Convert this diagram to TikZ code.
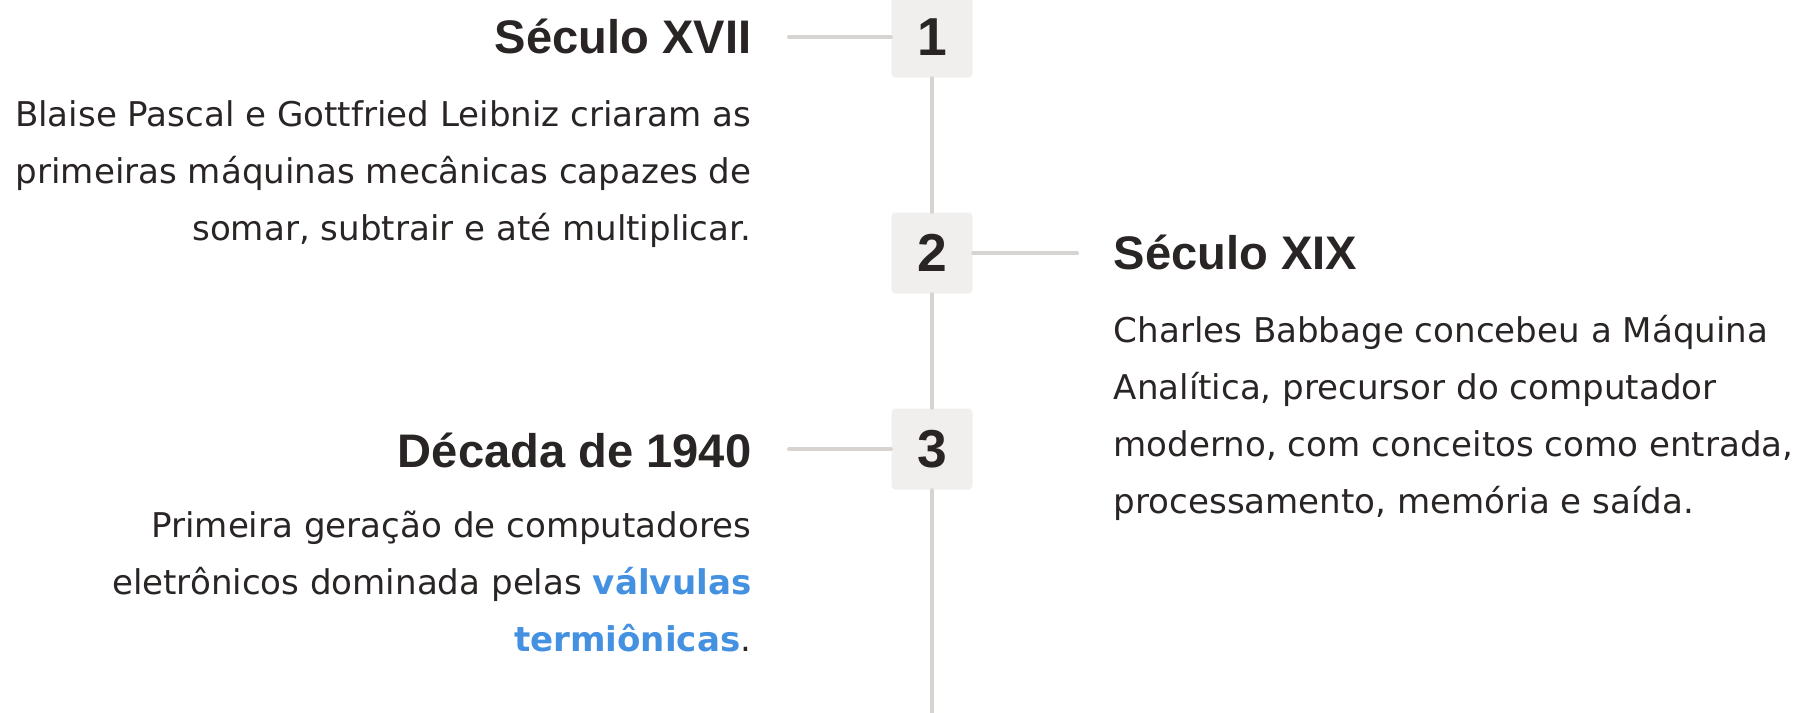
\documentclass[tikz,border=0pt]{standalone}
\usepackage{fontspec}
\setmainfont{DejaVu Sans}
\newfontfamily\headfont{Liberation Sans}
\usetikzlibrary{arrows}
\definecolor{ink}{HTML}{292524}
\definecolor{rail}{HTML}{D6D3D1}
\definecolor{stepfill}{HTML}{F1EFEE}
\definecolor{linkblue}{HTML}{4391E0}

\begin{document}
\begin{tikzpicture}
  \useasboundingbox (0,0) rectangle (17.99,-7.12);
  %\draw[red] (0,0) rectangle (17.99,-7.12);
  \tikzstyle{StepBox}=[fill=stepfill,rounded corners=0.04cm,minimum size=0.81cm,inner sep=0,
    text=ink,font=\headfont\bfseries\fontsize{15.2}{15.2}\selectfont]
  \tikzstyle{Title}=[inner sep=0,text=ink,font=\headfont\bfseries\fontsize{13.4}{13.4}\selectfont]
  \tikzstyle{Body}=[inner sep=0,text=ink,font=\fontsize{9.7}{16.2}\selectfont]
  \tikzstyle{Rail}=[draw=rail,line width=0.04cm,line cap=round]

  % numbered steps on the rail
  \node[StepBox] (n1) at (9.32,-0.37) {1};
  \node[StepBox] (n2) at (9.32,-2.53) {2};
  \node[StepBox] (n3) at (9.32,-4.49) {3};
  \coordinate (bottom) at (9.32,-7.14);

  \coordinate (t1) at (7.89,-0.37);
  \coordinate (t2) at (10.77,-2.53);
  \coordinate (t3) at (7.89,-4.49);

  \draw[Rail] (n1) -- (n2);
  \draw[Rail] (n2) -- (n3);
  \draw[Rail] (n3) -- (bottom);
  \draw[Rail] (t1) -- (n1.west);
  \draw[Rail] (n2.east) -- (t2);
  \draw[Rail] (t3) -- (n3.west);

  % titles
  \node[Title,anchor=base east] (h1) at (7.52,-0.53) {Século XVII};
  \node[Title,anchor=base west] (h2) at (11.13,-2.69) {Século XIX};
  \node[Title,anchor=base east] (h3) at (7.52,-4.67) {Década de 1940};

  % texts (base = last line)
  \node[Body,anchor=base east,align=right] (d1) at (7.52,-2.40)
    {Blaise Pascal e Gottfried Leibniz criaram as\\
     primeiras máquinas mecânicas capazes de\\
     somar, subtrair e até multiplicar.};
  \node[Body,anchor=base west,align=left] (d2) at (11.13,-5.13)
    {Charles Babbage concebeu a Máquina\\
     Analítica, precursor do computador\\
     moderno, com conceitos como entrada,\\
     processamento, memória e saída.};
  \node[Body,anchor=base east,align=right] (d3) at (7.52,-6.51)
    {Primeira geração de computadores\\
     eletrônicos dominada pelas \textcolor{linkblue}{\bfseries válvulas}\\
     \textcolor{linkblue}{\bfseries termiônicas}.};

\end{tikzpicture}
\end{document}
